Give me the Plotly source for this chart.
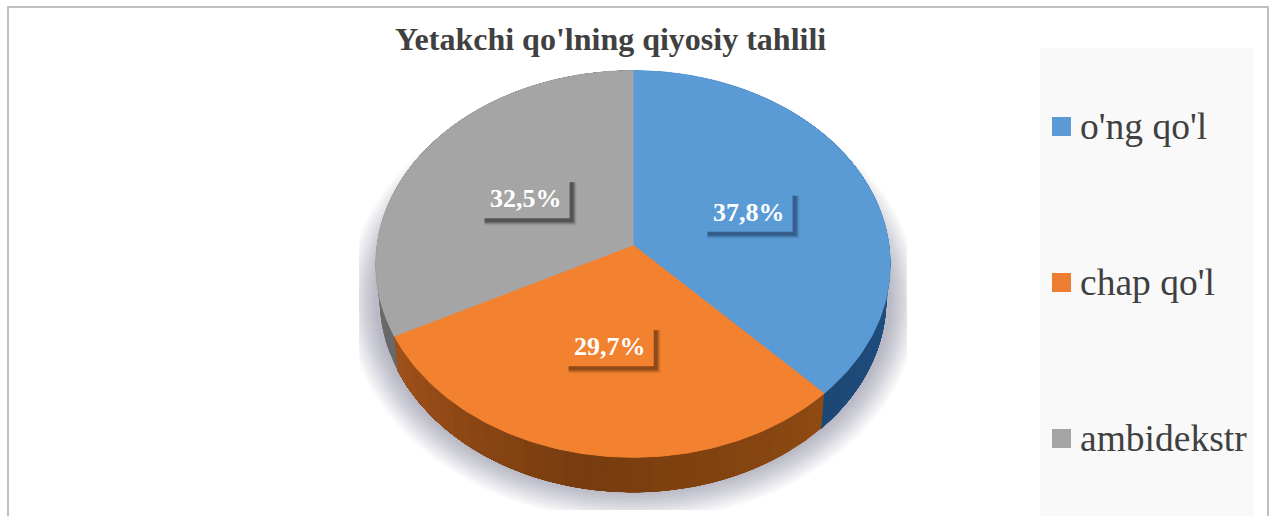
import numpy as np
import plotly.graph_objects as go

categories = ["o'ng qo'l", "chap qo'l", "ambidekstr"]
values = [37.8, 29.7, 32.5]
value_labels = ["37,8%", "29,7%", "32,5%"]
title_text = "Yetakchi qo'lning qiyosiy tahlili"

top_colors = ["#5B9BD5", "#F28130", "#A5A5A5"]
legend_colors = ["#5B9BD5", "#ED7D31", "#A5A5A5"]
wall_stops = [
    [(42, 100, 155), (34, 84, 134), (29, 72, 118)],
    [(142, 74, 18), (118, 60, 15), (160, 80, 26)],
    [(105, 105, 105), (115, 115, 115), (125, 125, 125)],
]
shadow_colors = ["rgba(30,60,100,0.45)", "rgba(90,45,10,0.45)", "rgba(40,40,40,0.45)"]

# geometry of the tilted pie, in page pixels
CX, CY, A, B, K, DEPTH, BOTTOM_SCALE = 633, 245, 256, 191.5, 0.0979, 35, 0.985
FONT = "Liberation Serif"
INK = "#404040"


def project(theta, r=1.0):
    u, v = r * np.sin(theta), r * np.cos(theta)
    d = 1 + K * v
    return CX + A * u / d, CY - B * v / d


fig = go.Figure()


def poly(x, y, color, line=0):
    fig.add_trace(go.Scatter(
        x=x, y=y, mode="lines", fill="toself", fillcolor=color,
        line=dict(color=color, width=line) if line else dict(width=0),
        hoverinfo="skip", showlegend=False))


# soft shadow beneath the pie, cut off by its bounding box
t = np.linspace(0, 2 * np.pi, 240)
for o in range(28, -1, -2):
    poly(np.clip(CX + (258 + o) * np.sin(t), 359, 907),
         np.minimum(300 + (193 + o) * np.cos(t), 510),
         "rgba(60,60,70,0.024)")

# side walls and top faces
bounds = np.cumsum([0] + values) / sum(values) * 2 * np.pi


def lerp(stops, f):
    f = f * (len(stops) - 1)
    i = min(int(f), len(stops) - 2)
    c = [stops[i][k] + (stops[i + 1][k] - stops[i][k]) * (f - i) for k in range(3)]
    return "rgb(%d,%d,%d)" % tuple(c)


for i in range(3):
    a0, a1 = bounds[i], bounds[i + 1]
    n = 24
    edges = np.linspace(a0, a1, n + 1)
    for j in range(n):
        # each band runs to the end of the slice, so no seams show between bands
        th = np.linspace(edges[j], a1, 80)
        x, y = project(th)
        xb = CX + (x - CX) * BOTTOM_SCALE
        poly(np.r_[x, xb[::-1]], np.r_[y, y[::-1] + DEPTH], lerp(wall_stops[i], j / (n - 1)))

for i in range(3):
    th = np.linspace(bounds[i], bounds[i + 1], 120)
    x, y = project(th)
    poly(np.r_[CX, x, CX], np.r_[CY, y, CY], top_colors[i], line=1)

# legend swatches
LEG_Y = [126.5, 282.5, 438.5]
fig.add_trace(go.Scatter(
    x=[1061.5] * 3, y=LEG_Y, mode="markers",
    marker=dict(symbol="square", size=19, color=legend_colors, line=dict(width=0)),
    hoverinfo="skip", showlegend=False))

shapes = [
    dict(type="rect", x0=8, y0=7, x1=1268, y1=540, line=dict(color="#BFBFBF", width=2),
         fillcolor="rgba(0,0,0,0)", layer="below"),
    dict(type="rect", x0=1040, y0=48, x1=1254, y1=530, line=dict(width=0),
         fillcolor="#F9F9F9", layer="below"),
]
annotations = [dict(x=610, y=39, text="<b>%s</b>" % title_text, showarrow=False,
                    font=dict(family=FONT, size=32, color=INK))]

for cat, y in zip(categories, LEG_Y):
    annotations.append(dict(x=1078, y=y, text=cat, showarrow=False, xanchor="left",
                            font=dict(family=FONT, size=37.5, color=INK)))

# value labels with their raised boxes
W, H = 88, 39
for i in range(3):
    mid = (bounds[i] + bounds[i + 1]) / 2
    lx, ly = project(mid, 0.5)
    ly += 2.5
    lx -= 1
    for off, alpha in ((7, 0.25), (5.5, 0.6), (4, 1)):
        col = shadow_colors[i].replace("0.45", "%.2f" % (0.45 * alpha))
        shapes.append(dict(type="rect", x0=lx - W / 2 + 3, x1=lx + W / 2 + off,
                           y0=ly - H / 2 + 3, y1=ly + H / 2 + off,
                           line=dict(width=0), fillcolor=col, layer="above"))
    shapes.append(dict(type="rect", x0=lx - W / 2, x1=lx + W / 2, y0=ly - H / 2, y1=ly + H / 2,
                       line=dict(width=0), fillcolor=top_colors[i], layer="above"))
    annotations.append(dict(x=lx, y=ly, text="<b>%s</b>" % value_labels[i], showarrow=False,
                            font=dict(family=FONT, size=26, color="#FFFFFF")))

fig.update_layout(
    width=1272, height=516, margin=dict(l=0, r=0, t=0, b=0),
    paper_bgcolor="#FFFFFF", plot_bgcolor="#FFFFFF", showlegend=False,
    xaxis=dict(range=[0, 1272], visible=False, fixedrange=True),
    yaxis=dict(range=[516, 0], visible=False, fixedrange=True),
    shapes=shapes, annotations=annotations,
)
fig.write_html("out.html", config=dict(displayModeBar=False),
               post_script="document.body.style.margin='0';document.body.style.overflow='hidden';")
